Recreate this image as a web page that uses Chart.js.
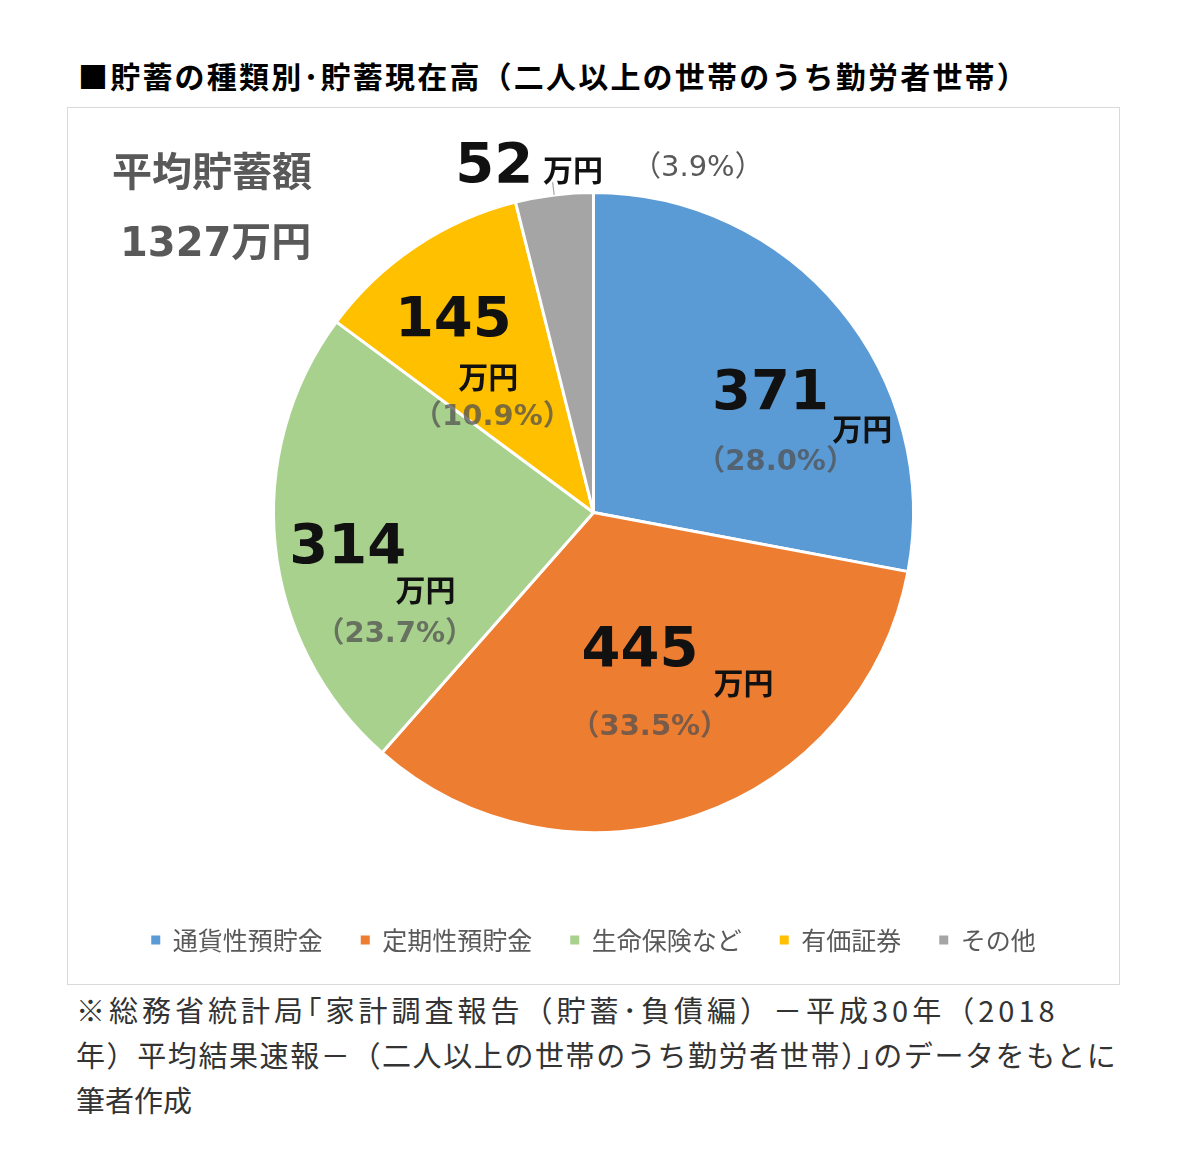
<!DOCTYPE html>
<html lang="ja">
<head>
<meta charset="UTF-8">
<title>貯蓄の種類別・貯蓄現在高</title>
<script src="https://cdn.jsdelivr.net/npm/chart.js"></script>
<style>
    body {
        margin: 0;
        background: #fff;
        width: 1200px;
        height: 1171px;
        position: relative;
        font-family: "Noto Sans CJK JP", sans-serif;
    }

    .title {
        position: absolute;
        left: 78px;
        top: 53px;
        font-size: 30px;
        font-weight: bold;
        color: #000;
        letter-spacing: 2.2px;
        white-space: nowrap;
    }

    .frame {
        position: absolute;
        left: 67px;
        top: 107px;
        width: 1051px;
        height: 876px;
        border: 1px solid #d9d9d9;
    }

    .frame canvas {
        position: absolute;
        left: 0;
        top: 0;
    }

    .total {
        position: absolute;
        left: 44px;
        top: 26px;
        color: #595959;
        font-size: 40px;
        font-weight: bold;
        line-height: 70px;
        white-space: nowrap;
    }

    .total .num {
        font-family: "DejaVu Sans", sans-serif;
        padding-left: 8px;
    }

    .note {
        position: absolute;
        left: 76px;
        top: 987px;
        font-size: 29px;
        line-height: 45px;
        color: #333;
        white-space: nowrap;
    }

    .note .l1 { letter-spacing: 4px; }
    .note .l2 { letter-spacing: 1.6px; }
</style>
</head>
<body>
    <div class="title">■貯蓄の種類別･貯蓄現在高（二人以上の世帯のうち勤労者世帯）</div>

    <div class="frame">
        <canvas id="pie" width="1051" height="876"></canvas>
        <div class="total">平均貯蓄額<br><span class="num" id="totalNum"></span>万円</div>
    </div>

    <div class="note"><span class="l1">※総務省統計局｢家計調査報告（貯蓄･負債編）－平成30年（2018</span><br><span class="l2">年）平均結果速報－（二人以上の世帯のうち勤労者世帯）｣のデータをもとに</span><br>筆者作成</div>

<script>
// data
const categories = ['通貨性預貯金', '定期性預貯金', '生命保険など', '有価証券', 'その他'];
const amounts = [371, 445, 314, 145, 52];
const shares = [28.0, 33.5, 23.7, 10.9, 3.9];

const sliceColors = ['#5b9bd5', '#ed7d31', '#a9d18e', '#ffc000', '#a5a5a5'];

// label placement, offsets from the pie centre in radius units: [number, 万円, percent]
const labelSpots = [
    [[0.553, -0.375], [0.840, -0.263], [0.569, -0.157]],
    [[0.145, 0.428], [0.469, 0.531], [0.176, 0.671]],
    [[-0.768, 0.107], [-0.525, 0.241], [-0.621, 0.382]],
    [[-0.438, -0.603], [-0.329, -0.425], [-0.316, -0.298]],
    [[-0.310, -1.086], [-0.064, -1.073], [0.326, -1.075]]
];

document.getElementById('totalNum').textContent = amounts.reduce((a, b) => a + b, 0);

const sliceLabels = {
    id: 'sliceLabels',
    afterDatasetsDraw(chart) {
        const ctx = chart.ctx;
        const arcs = chart.getDatasetMeta(0).data;
        ctx.save();
        ctx.textAlign = 'center';
        ctx.textBaseline = 'middle';
        arcs.forEach((arc, i) => {
            const r = arc.outerRadius;
            const spot = labelSpots[i];
            const outside = i === 4;

            ctx.fillStyle = '#111';
            ctx.font = 'bold 56px "DejaVu Sans"';
            ctx.fillText(String(amounts[i]), arc.x + spot[0][0] * r, arc.y + spot[0][1] * r + 2);

            ctx.font = 'bold 30px "Noto Sans CJK JP"';
            ctx.fillText('万円', arc.x + spot[1][0] * r, arc.y + spot[1][1] * r);

            ctx.fillStyle = outside ? '#595959' : 'rgba(80, 80, 80, 0.75)';
            ctx.font = (outside ? '' : 'bold ') + '29px "DejaVu Sans", "Noto Sans CJK JP"';
            ctx.fillText('（' + shares[i].toFixed(1) + '%）', arc.x + spot[2][0] * r, arc.y + spot[2][1] * r);

            if (outside) {
                // small leader line for the thin slice
                const mid = (arc.startAngle + arc.endAngle) / 2;
                ctx.strokeStyle = '#a5a5a5';
                ctx.lineWidth = 1.2;
                ctx.beginPath();
                ctx.moveTo(arc.x + Math.cos(mid) * r, arc.y + Math.sin(mid) * r);
                ctx.lineTo(arc.x + Math.cos(mid) * r * 1.04, arc.y + Math.sin(mid) * r * 1.04);
                ctx.stroke();
            }
        });
        ctx.restore();
    }
};

new Chart(document.getElementById('pie').getContext('2d'), {
    type: 'pie',
    data: {
        labels: categories,
        datasets: [{
            data: amounts,
            backgroundColor: sliceColors,
            borderColor: '#ffffff',
            borderWidth: 3,
            radius: 320
        }]
    },
    options: {
        responsive: false,
        animation: false,
        layout: {
            padding: { top: 27.5, bottom: 21.5 }
        },
        plugins: {
            tooltip: { enabled: false },
            legend: {
                position: 'bottom',
                labels: {
                    boxWidth: 9,
                    boxHeight: 9,
                    padding: 38,
                    color: '#595959',
                    font: { family: '"Noto Sans CJK JP"', size: 25 },
                    generateLabels(chart) {
                        return Chart.overrides.pie.plugins.legend.labels.generateLabels(chart)
                            .map(item => Object.assign(item, { lineWidth: 0 }));
                    }
                }
            }
        }
    },
    plugins: [sliceLabels]
});
</script>
</body>
</html>
